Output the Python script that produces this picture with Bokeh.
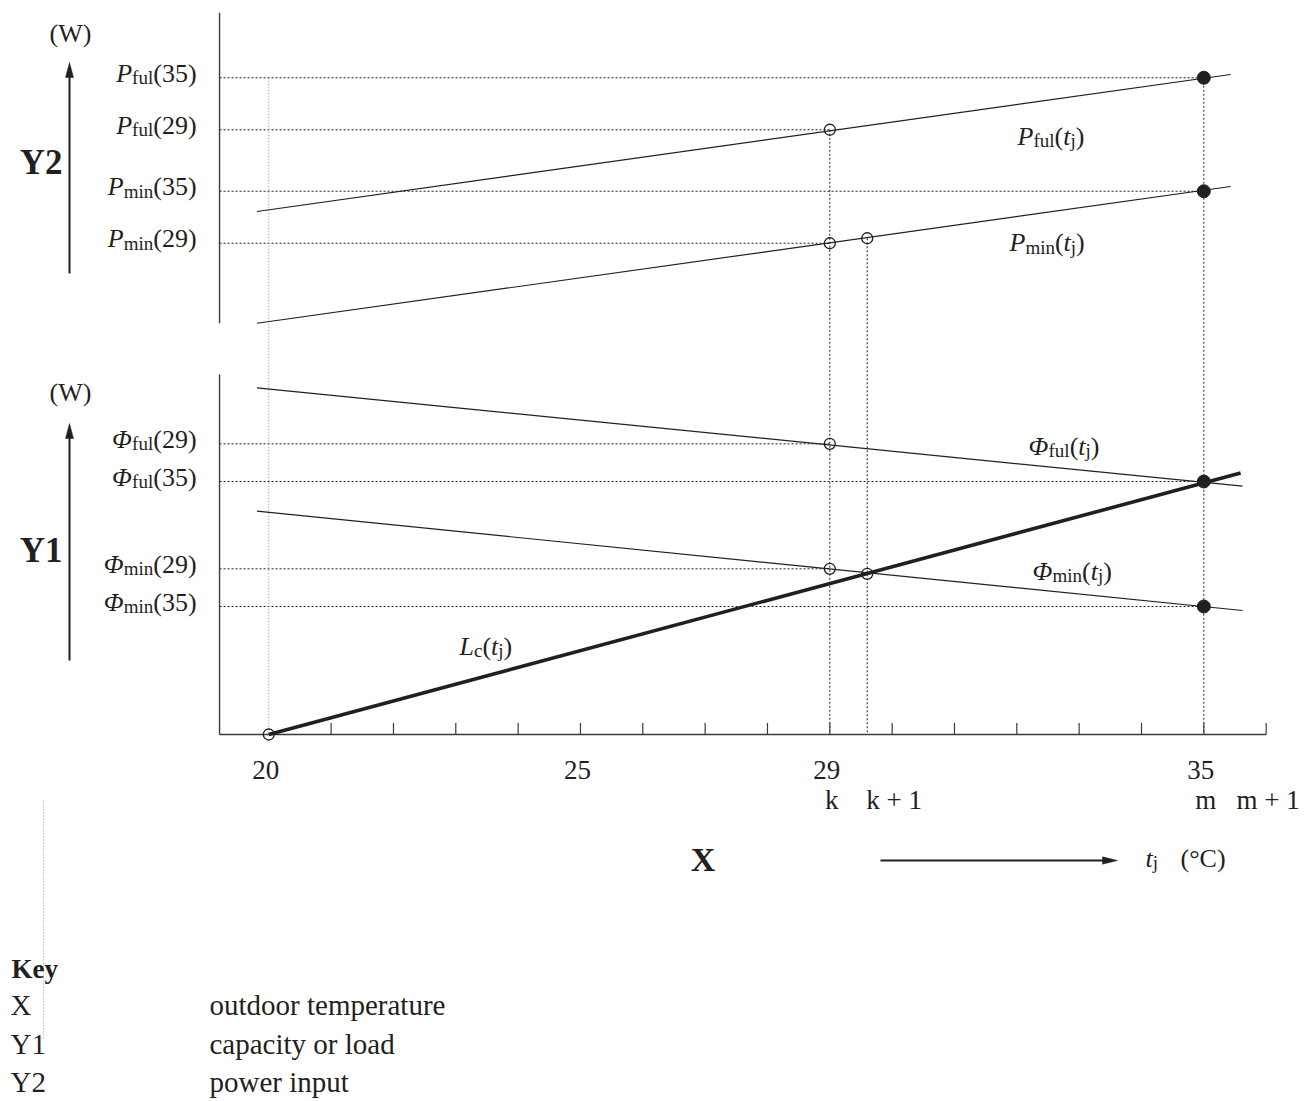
from bokeh.plotting import figure
from bokeh.models import Range1d, ColumnDataSource
from bokeh.core.properties import value
from bokeh.embed import file_html
from bokeh.resources import INLINE

# ---------------- data ----------------
# x axis: outdoor temperature bins (degC)
bin_ticks = [21, 22, 23, 24, 25, 26, 27, 28, 29, 30, 31, 32, 33, 34, 35, 36]
tick_label_temps = [20, 25, 29, 35]
tick_labels = ["20", "25", "29", "35"]
index_temps = [29, 30, 35, 36]
index_labels = ["k", "k + 1", "m", "m + 1"]

# Y2: power input (W, schematic)
p_line_t = [19.81, 35.43]
p_ful_line = [516, 1064]
p_min_line = [69, 616]
p_ful_pts_t = [29, 35]
p_ful_pts = [843, 1051]
p_min_pts_t = [29, 29.6, 35]
p_min_pts = [389, 409, 597]

# Y1: capacity or load (W, schematic)
phi_line_t = [19.81, 35.62]
phi_ful_line = [3467, 2483]
phi_min_line = [2233, 1240]
lc_t = [20, 35.59]
lc_line = [0, 2615]
phi_ful_pts_t = [29, 35]
phi_ful_pts = [2907, 2530]
phi_min_pts_t = [29, 29.6, 35]
phi_min_pts = [1657, 1607, 1280]
lc_pts_t = [20]
lc_pts = [0]

key_codes = ["X", "Y1", "Y2"]
key_texts = ["outdoor temperature", "capacity or load", "power input"]

# ---------------- styling / layout ----------------
INK = "#231f20"
FONT = "Liberation Serif"
AXIS_T = 19.21          # position of the vertical axes (degC)
AXIS_END_T = 36.0
UP_AXIS = (69, 1311)    # extent of the upper vertical axis (upper units)
LOW_AXIS = (0, 3600)    # extent of the lower vertical axis (lower units)
BASELINE_FIX = 0.36     # empirical baseline correction (fraction of font size)

W, H = 1300, 1098
p = figure(width=W, height=H, x_range=Range1d(15.696, 36.551), y_range=Range1d(H, 0),
           output_backend="svg", toolbar_location=None, min_border=0,
           x_axis_location=None, y_axis_location=None)
p.grid.visible = False
p.outline_line_color = None
p.background_fill_color = "white"
p.border_fill_color = "white"
p.extra_x_ranges = {"px": Range1d(0, W)}
up_r = Range1d(-3032, 1360)
low_r = Range1d(-3640, 7340)
p.extra_y_ranges = {"up": up_r, "low": low_r}

# x-axis baseline expressed in upper-panel units (through the two scales)
frac0 = (0 - low_r.start) / (low_r.end - low_r.start)
base_up = up_r.start + frac0 * (up_r.end - up_r.start)

# ---------------- dotted reference lines ----------------
up_ref = [(p_ful_pts_t[1], p_ful_pts[1]), (p_ful_pts_t[0], p_ful_pts[0]),
          (p_min_pts_t[2], p_min_pts[2]), (p_min_pts_t[0], p_min_pts[0])]
low_ref = [(phi_ful_pts_t[0], phi_ful_pts[0]), (phi_ful_pts_t[1], phi_ful_pts[1]),
           (phi_min_pts_t[0], phi_min_pts[0]), (phi_min_pts_t[2], phi_min_pts[2])]
p.segment(x0=[AXIS_T] * 4, x1=[t for t, _ in up_ref], y0=[v for _, v in up_ref],
          y1=[v for _, v in up_ref], y_range_name="up", line_color=INK, line_width=1,
          line_dash="2 2")
p.segment(x0=[AXIS_T] * 4, x1=[t for t, _ in low_ref], y0=[v for _, v in low_ref],
          y1=[v for _, v in low_ref], y_range_name="low", line_color=INK, line_width=1,
          line_dash="2 2")
# vertical dotted lines
v_t = [p_ful_pts_t[0], p_min_pts_t[1], p_ful_pts_t[1]]
v_top = [p_ful_pts[0], p_min_pts[1], p_ful_pts[1]]
p.segment(x0=v_t, x1=v_t, y0=v_top, y1=[base_up] * 3, y_range_name="up",
          line_color=INK, line_width=1, line_dash="2 2")
p.segment(x0=[lc_pts_t[0]], x1=[lc_pts_t[0]], y0=[p_ful_pts[1]], y1=[base_up],
          y_range_name="up", line_color="#8a8a8a", line_width=1, line_dash="1 2")

# ---------------- axes ----------------
p.segment(x0=[AXIS_T], x1=[AXIS_T], y0=[UP_AXIS[0]], y1=[UP_AXIS[1]], y_range_name="up",
          line_color="#3a3a3a", line_width=1.4)
p.segment(x0=[AXIS_T], x1=[AXIS_T], y0=[LOW_AXIS[0]], y1=[LOW_AXIS[1]], y_range_name="low",
          line_color="#3a3a3a", line_width=1.4)
p.segment(x0=[AXIS_T], x1=[AXIS_END_T], y0=[0], y1=[0], y_range_name="low",
          line_color="#3a3a3a", line_width=1.4)
p.segment(x0=bin_ticks, x1=bin_ticks, y0=[0] * len(bin_ticks), y1=[116] * len(bin_ticks),
          y_range_name="low", line_color="#3a3a3a", line_width=1.2)

# ---------------- curves ----------------
p.line(p_line_t, p_ful_line, y_range_name="up", line_color=INK, line_width=1.2)
p.line(p_line_t, p_min_line, y_range_name="up", line_color=INK, line_width=1.2)
p.line(phi_line_t, phi_ful_line, y_range_name="low", line_color=INK, line_width=1.2)
p.line(phi_line_t, phi_min_line, y_range_name="low", line_color=INK, line_width=1.2)
p.line(lc_t, lc_line, y_range_name="low", line_color=INK, line_width=3.6)

# ---------------- markers ----------------
p.scatter([p_ful_pts_t[0], p_min_pts_t[0], p_min_pts_t[1]],
          [p_ful_pts[0], p_min_pts[0], p_min_pts[1]], y_range_name="up", size=11,
          marker="circle", fill_color=None, line_color=INK, line_width=1.3)
p.scatter([phi_ful_pts_t[0], phi_min_pts_t[0], phi_min_pts_t[1], lc_pts_t[0]],
          [phi_ful_pts[0], phi_min_pts[0], phi_min_pts[1], lc_pts[0]], y_range_name="low",
          size=11, marker="circle", fill_color=None, line_color=INK, line_width=1.3)
p.scatter([p_ful_pts_t[1], p_min_pts_t[2]], [p_ful_pts[1], p_min_pts[2]], y_range_name="up",
          size=13, marker="circle", fill_color=INK, line_color=INK)
p.scatter([phi_ful_pts_t[1], phi_min_pts_t[2]], [phi_ful_pts[1], phi_min_pts[2]],
          y_range_name="low", size=13, marker="circle", fill_color=INK, line_color=INK)

# ---------------- arrows (layout, pixel coordinates) ----------------
p.segment(x0=[69, 69, 880], x1=[69, 69, 1105], y0=[273, 660, 860], y1=[72, 433, 860],
          x_range_name="px", line_color=INK, line_width=2)
p.patches(xs=[[65, 73, 69], [65, 73, 69], [1102, 1102, 1117]],
          ys=[[77, 77, 62], [438, 438, 423], [856.3, 863.7, 860]],
          x_range_name="px", fill_color=INK, line_color=INK, line_width=0.5)
# stray dotted mark present in the reference key area
p.segment(x0=[43], x1=[43], y0=[800], y1=[1038], x_range_name="px",
          line_color="#9a9a9a", line_width=1, line_dash="1 2")

# ---------------- texts ----------------
REG_W = {" ": .25, "(": .333, ")": .333, "+": .564, "c": .444, "f": .333, "i": .278,
         "j": .278, "k": .5, "l": .278, "m": .778, "n": .5, "u": .5, "°": .4, "C": .667,
         "W": .944}
IT_W = {"P": .611, "L": .556, "t": .278, "Φ": .77}
BOLD_W = {"X": .722, "Y": .722, "K": .778, "e": .444, "y": .5}


def text_width(s, kind, size):
    table = IT_W if kind == "it" else (BOLD_W if kind == "bold" else REG_W)
    return sum(table.get(ch, 0.5) for ch in s) * size


layers = {}


def add_label(xr, yr, x, y, pieces, size, align="left", dx=0.0, dy=0.0):
    sub_size = round(size * 0.72)
    sizes = [sub_size if k == "sub" else size for _, k in pieces]
    widths = [text_width(t, k, s) for (t, k), s in zip(pieces, sizes)]
    total = sum(widths)
    cur = dx - (total if align == "right" else total / 2 if align == "center" else 0)
    d = layers.setdefault((xr, yr), dict(x=[], y=[], text=[], xo=[], yo=[], size=[], style=[]))
    for (txt, kind), s, w in zip(pieces, sizes, widths):
        d["x"].append(x)
        d["y"].append(y)
        d["text"].append(txt)
        d["xo"].append(cur)
        d["yo"].append(dy + (2 if kind == "sub" else 0) - BASELINE_FIX * s)
        d["size"].append(f"{s}px")
        d["style"].append({"it": "italic", "bold": "bold"}.get(kind, "normal"))
        cur += w


LBL = 26
# left value labels
for (sym, sub, tl, val) in [("P", "ful", "35", p_ful_pts[1]), ("P", "ful", "29", p_ful_pts[0]),
                            ("P", "min", "35", p_min_pts[2]), ("P", "min", "29", p_min_pts[0])]:
    add_label("default", "up", AXIS_T, val, [(sym, "it"), (sub, "sub"), (f"({tl})", "rm")],
              LBL, align="right", dx=-23, dy=5)
for (sym, sub, tl, val) in [("Φ", "ful", "29", phi_ful_pts[0]), ("Φ", "ful", "35", phi_ful_pts[1]),
                            ("Φ", "min", "29", phi_min_pts[0]), ("Φ", "min", "35", phi_min_pts[2])]:
    add_label("default", "low", AXIS_T, val, [(sym, "it"), (sub, "sub"), (f"({tl})", "rm")],
              LBL, align="right", dx=-23, dy=5)

# curve labels
def fn_label(sym, sub):
    return [(sym, "it"), (sub, "sub"), ("(", "rm"), ("t", "it"), ("j", "sub"), (")", "rm")]


add_label("px", "default", 1017, 145, fn_label("P", "ful"), LBL)
add_label("px", "default", 1009, 251.5, fn_label("P", "min"), LBL)
add_label("px", "default", 1028, 455, fn_label("Φ", "ful"), LBL)
add_label("px", "default", 1032, 580, fn_label("Φ", "min"), LBL)
add_label("px", "default", 459, 655, fn_label("L", "c"), LBL)

# axis titles
add_label("px", "default", 70, 42.5, [("(W)", "rm")], 26, align="center")
add_label("px", "default", 70, 401, [("(W)", "rm")], 26, align="center")
add_label("px", "default", 62, 175, [("Y2", "bold")], 35, align="right")
add_label("px", "default", 62, 563, [("Y1", "bold")], 35, align="right")
add_label("px", "default", 702.5, 871.7, [("X", "bold")], 34, align="center")
add_label("px", "default", 1145, 867, [("t", "it"), ("j", "sub")], 26)
add_label("px", "default", 1180, 867, [("(°C)", "rm")], 26)

# tick labels
for t, s in zip(tick_label_temps, tick_labels):
    add_label("default", "low", t, 0, [(s, "rm")], 27, align="center", dx=-3, dy=45.7)
for t, s in zip(index_temps, index_labels):
    add_label("default", "low", t, 0, [(s, "rm")], 27, align="center", dx=2, dy=75)

# key
add_label("px", "default", 11, 978, [("Key", "bold")], 27)
for i, (c, t) in enumerate(zip(key_codes, key_texts)):
    yb = [1015, 1054, 1092][i]
    add_label("px", "default", 10, yb, [(c, "rm")], 29)
    add_label("px", "default", 209, yb, [(t, "rm")], 29)

for (xr, yr), d in layers.items():
    p.text(x="x", y="y", text="text", x_offset="xo", y_offset="yo", text_font_size="size",
           text_font_style="style", text_font=value(FONT), text_color=INK, text_align="left",
           text_baseline="alphabetic", source=ColumnDataSource(d), x_range_name=xr,
           y_range_name=yr)

open("out.html", "w").write(file_html(p, INLINE))
